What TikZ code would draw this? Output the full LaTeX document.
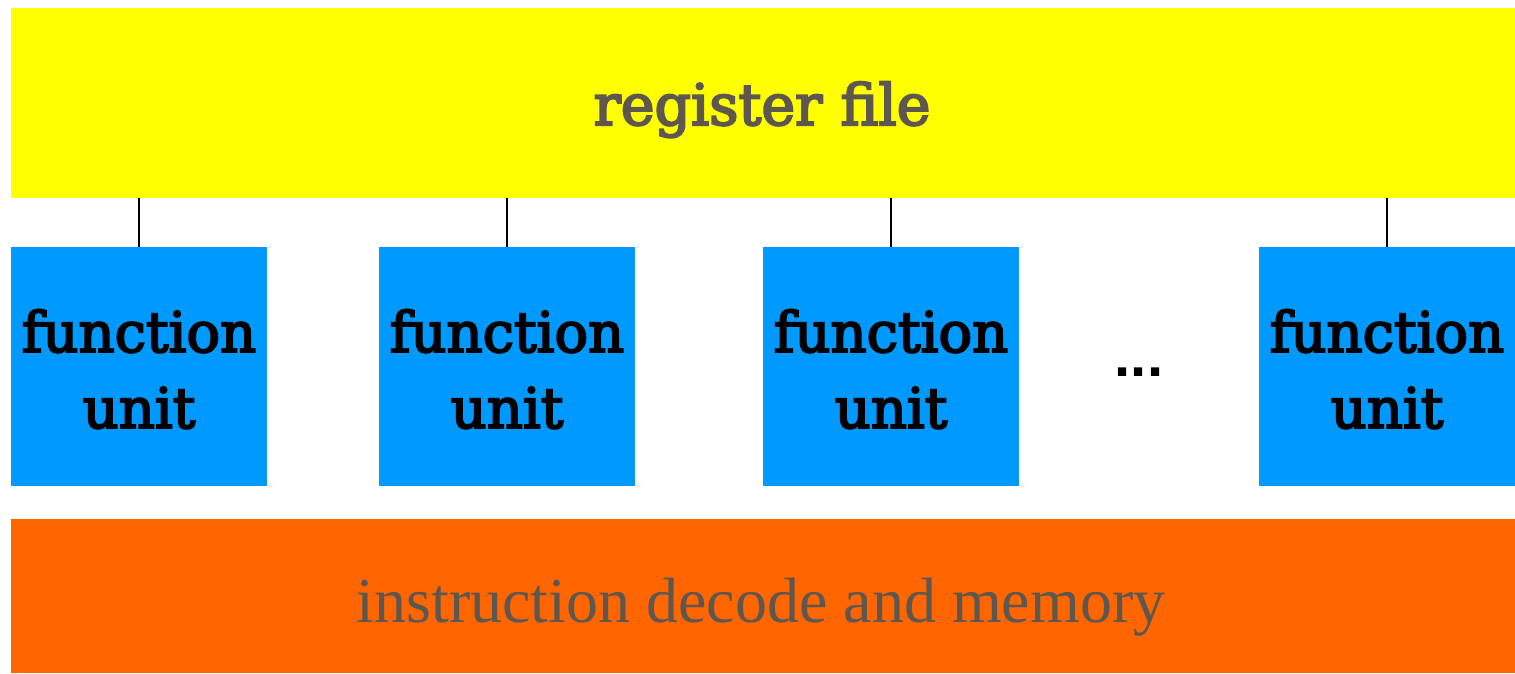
\documentclass[tikz,border=0pt]{standalone}
\usepackage{fontspec}
\newfontfamily\slabfont[FakeBold=3.5]{DejaVu Serif}
\newfontfamily\romanfont{Liberation Serif}
\newfontfamily\dotsfont{Liberation Sans}
\definecolor{regyellow}{HTML}{FFFF00}
\definecolor{fublue}{HTML}{0099FF}
\definecolor{decorange}{HTML}{FF6600}
\definecolor{labelgray}{HTML}{5E5750}
\tikzset{
  block/.style={fill=#1, draw=none, inner sep=0pt, outer sep=0pt},
  fubox/.style={block=fublue, minimum width=256pt, minimum height=239pt},
  fulabel/.style={align=center, inner sep=0pt, anchor=base,
    font=\slabfont\fontsize{56}{76}\selectfont, text=black},
  wire/.style={draw=black, line width=1.4pt},
}
\begin{document}
\begin{tikzpicture}[x=1pt, y=-1pt]
  \useasboundingbox (0,0) rectangle (1515,673);
  % register file across the top
  \node[block=regyellow, minimum width=1504pt, minimum height=190pt] (reg) at (763,103) {};
  \node[anchor=base, inner sep=0pt, text=labelgray,
        font=\slabfont\fontsize{57}{60}\selectfont] (regtext) at (762,125) {register file};
  % row of function units
  \foreach \i/\x in {1/139,2/507,3/891,4/1387} {
    \node[fubox] (fu\i) at (\x,366.5) {};
    \node[fulabel] (fuA\i) at (\x,352) {function};
    \node[fulabel] (fuB\i) at (\x,428) {unit};
  }
  \node[anchor=base, inner sep=0pt, font=\dotsfont\bfseries\fontsize{58}{58}\selectfont] (dots) at (1139,376) {...};
  % instruction decode and memory across the bottom
  \node[block=decorange, minimum width=1504pt, minimum height=154pt] (dec) at (763,596) {};
  \node[anchor=base, inner sep=0pt, text=labelgray,
        font=\romanfont\fontsize{64}{70}\selectfont] (dectext) at (761,622) {instruction decode and memory};
  % connections from the register file down to each unit
  \foreach \u in {fu1,fu2,fu3,fu4}
    \draw[wire] (\u.north) -- (\u.north |- reg.south);
\end{tikzpicture}
\end{document}
